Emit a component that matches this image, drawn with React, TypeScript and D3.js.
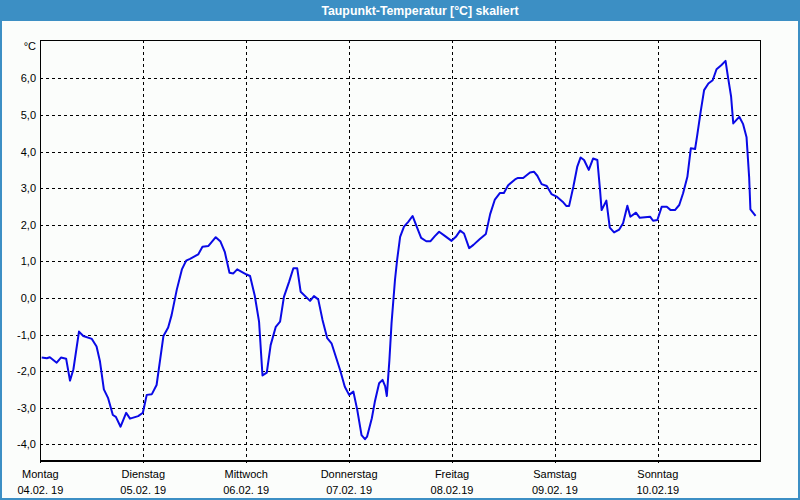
import React from "react";
import * as d3 from "d3";

const dayNames = ["Montag", "Dienstag", "Mittwoch", "Donnerstag", "Freitag", "Samstag", "Sonntag"];
const dayDates = ["04.02. 19", "05.02. 19", "06.02. 19", "07.02. 19", "08.02.19", "09.02. 19", "10.02.19"];
const yTicks = [-4, -3, -2, -1, 0, 1, 2, 3, 4, 5, 6];

// hours since Monday 04.02.19 00:00
const hours = [
  0.3, 1.5, 2.2, 3.8, 4.8, 6.0, 6.9, 7.7, 9.0, 10.0, 12.0, 13.1, 13.9, 14.8, 15.8, 16.9, 17.6, 18.7, 20.0, 20.9,
  22.8, 23.9, 24.8, 26.0, 27.1, 28.7, 29.8, 30.6, 31.8, 33.0, 34.0, 34.9, 36.8, 37.8, 39.2, 40.9, 42.0, 43.0, 44.1, 45.0,
  45.9, 48.1, 48.9, 50.0, 51.0, 51.8, 52.8, 53.7, 54.9, 55.9, 56.8, 58.0, 59.0, 59.9, 60.7, 62.9, 63.8, 64.8, 65.8, 66.9,
  67.9, 69.9, 71.0, 72.0, 73.0, 73.9, 74.9, 75.7, 76.2, 77.3, 78.0, 79.0, 79.8, 80.4, 80.8, 81.4, 81.9, 82.7, 83.2, 83.9,
  84.8, 85.8, 86.8, 87.7, 88.8, 90.0, 91.0, 92.0, 93.0, 94.4, 95.9, 96.9, 97.9, 98.8, 100.0, 101.0, 102.5, 103.9, 104.9, 106.0,
  107.2, 108.1, 109.1, 110.7, 111.4, 112.6, 114.2, 115.1, 115.9, 116.9, 118.1, 119.2, 120.4, 121.8, 122.7, 123.3, 124.3, 125.2, 126.0, 126.8,
  127.9, 128.9, 129.9, 130.5, 130.9, 132.0, 132.8, 133.8, 135.0, 135.9, 136.9, 137.6, 138.9, 139.8, 142.2, 142.9, 143.9, 144.9, 146.1, 147.0,
  148.0, 149.0, 149.9, 150.9, 151.7, 152.7, 153.2, 154.0, 154.8, 155.8, 156.8, 157.7, 158.8, 159.8, 160.3, 161.1, 161.6, 163.0, 163.9, 164.7,
  165.3, 165.6, 166.8,
];
const dewPoint = [
  -1.63, -1.65, -1.62, -1.77, -1.63, -1.66, -2.26, -1.95, -0.92, -1.04, -1.12, -1.33, -1.74, -2.5, -2.74, -3.2, -3.25, -3.52, -3.14, -3.3,
  -3.23, -3.14, -2.65, -2.63, -2.38, -1.04, -0.81, -0.47, 0.22, 0.78, 1.02, 1.07, 1.19, 1.4, 1.42, 1.66, 1.54, 1.26, 0.69, 0.67,
  0.78, 0.64, 0.6, 0.06, -0.65, -2.12, -2.04, -1.29, -0.79, -0.65, 0.03, 0.44, 0.81, 0.81, 0.17, -0.08, 0.05, -0.04, -0.6, -1.1,
  -1.24, -1.97, -2.43, -2.65, -2.56, -3.06, -3.75, -3.86, -3.79, -3.29, -2.84, -2.33, -2.24, -2.41, -2.68, -1.7, -0.69, 0.49, 1.04, 1.67,
  1.95, 2.08, 2.24, 1.97, 1.64, 1.55, 1.55, 1.69, 1.81, 1.69, 1.56, 1.67, 1.84, 1.76, 1.36, 1.45, 1.61, 1.75, 2.29, 2.69,
  2.87, 2.87, 3.08, 3.24, 3.28, 3.28, 3.43, 3.45, 3.34, 3.11, 3.06, 2.84, 2.77, 2.63, 2.51, 2.51, 3.04, 3.58, 3.84, 3.77,
  3.5, 3.81, 3.77, 2.99, 2.4, 2.66, 1.92, 1.79, 1.87, 2.04, 2.52, 2.22, 2.33, 2.19, 2.22, 2.11, 2.13, 2.49, 2.49, 2.4,
  2.4, 2.54, 2.86, 3.31, 4.09, 4.07, 4.45, 5.09, 5.68, 5.86, 5.95, 6.25, 6.36, 6.48, 6.09, 5.5, 4.77, 4.95, 4.75, 4.39,
  3.31, 2.42, 2.24,
];

const W = 800;
const H = 500;
const L = 40;
const R = 760;
const T = 40;
const B = 460;

export default function App() {
  const x = d3.scaleLinear().domain([0, 168]).range([L + 0.4, R + 0.7]);
  const y = d3.scaleLinear().domain([-4.43, 7.05]).range([B, T]);
  const data = hours.map((h, i) => [h, dewPoint[i]] as [number, number]);
  const line = d3
    .line<[number, number]>()
    .x((d) => x(d[0]))
    .y((d) => y(d[1]));
  const crisp = (v: number) => Math.round(v) + 0.5;
  const font = "'Liberation Sans', Arial, sans-serif";
  const fmt = (v: number) => v.toFixed(1).replace(".", ",");

  return (
    <svg
      width={W}
      height={H}
      style={{ position: "absolute", left: 0, top: 0, display: "block" }}
      fontFamily={font}
    >
      <rect x={0} y={0} width={W} height={H} fill="#3c8fc4" />
      <rect x={2} y={21} width={W - 4} height={H - 23} fill="#fbfdfb" />
      <text x={420} y={14.5} textAnchor="middle" fill="#ffffff" fontSize={12.3} fontWeight="bold">
        Taupunkt-Temperatur [°C] skaliert
      </text>

      {/* horizontal grid */}
      {yTicks.map((v) => (
        <line
          key={"h" + v}
          x1={L}
          x2={R}
          y1={crisp(y(v))}
          y2={crisp(y(v))}
          stroke="#000"
          strokeWidth={1}
          strokeDasharray="3,3"
          shapeRendering="crispEdges"
        />
      ))}
      {/* vertical grid */}
      {dayNames.map((_, i) =>
        i === 0 ? null : (
          <line
            key={"v" + i}
            x1={crisp(x(i * 24))}
            x2={crisp(x(i * 24))}
            y1={T}
            y2={B}
            stroke="#000"
            strokeWidth={1}
            strokeDasharray="3,3"
            shapeRendering="crispEdges"
          />
        )
      )}
      {/* ticks below axis */}
      {dayNames.map((_, i) => (
        <line
          key={"t" + i}
          x1={crisp(x(i * 24))}
          x2={crisp(x(i * 24))}
          y1={B}
          y2={B + 3}
          stroke="#000"
          strokeWidth={1}
          shapeRendering="crispEdges"
        />
      ))}
      {/* frame */}
      <rect
        x={L + 0.5}
        y={T + 0.5}
        width={R - L}
        height={B - T}
        fill="none"
        stroke="#000"
        strokeWidth={1}
        shapeRendering="crispEdges"
      />
      <line x1={L + 0.5} x2={R + 0.5} y1={B + 0.5} y2={B + 0.5} stroke="#000" strokeWidth={2} shapeRendering="crispEdges" />

      {/* y labels */}
      {yTicks.map((v) => (
        <text key={"yl" + v} x={36} y={y(v) + 4} textAnchor="end" fontSize={11} fill="#000">
          {fmt(v)}
        </text>
      ))}
      <text x={36} y={50} textAnchor="end" fontSize={11} fill="#000">
        °C
      </text>

      {/* x labels */}
      {dayNames.map((n, i) => (
        <g key={"xl" + i}>
          <text x={x(i * 24)} y={478} textAnchor="middle" fontSize={11} fill="#000">
            {n}
          </text>
          <text x={x(i * 24)} y={494} textAnchor="middle" fontSize={11} fill="#000">
            {dayDates[i]}
          </text>
        </g>
      ))}

      <path d={line(data) || ""} fill="none" stroke="#0a0ae6" strokeWidth={2} strokeLinejoin="round" />
    </svg>
  );
}
